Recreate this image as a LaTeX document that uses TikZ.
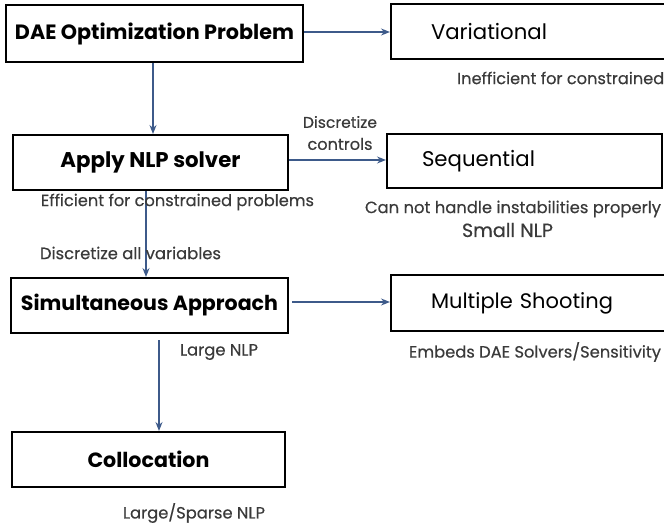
\documentclass[tikz,border=0pt]{standalone}
\usepackage{fontspec}
\setmainfont{Poppins}
\newfontfamily\medfont{Poppins}[FakeBold=0.4]
\usetikzlibrary{arrows.meta}
\definecolor{arrowblue}{HTML}{3D5A8A}
\definecolor{labelgray}{HTML}{3A3A3A}
\newcommand\fitw[2]{\resizebox{#1pt}{!}{#2}}
\begin{document}
\begin{tikzpicture}[x=1pt,y=-1pt,
  leftbox/.style={draw=black, line width=2pt, minimum height=55pt, inner sep=0pt, font=\bfseries},
  rightbox/.style={draw=black, line width=2pt, minimum height=55pt, inner ysep=0pt, inner xsep=40pt, align=left},
  lbl/.style={text=labelgray, inner sep=0pt, font=\medfont},
  arr/.style={draw=arrowblue, line width=1.3pt, -{Stealth[length=9pt,width=7pt,inset=3pt]}}
]
\clip (0,0) rectangle (664,527);
\useasboundingbox (0,0) rectangle (664,527);

% left column
\node[leftbox, minimum width=297pt, minimum height=57pt] (dae) at (154.5,33.5) {\fitw{279}{DAE Optimization Problem}};
\node[leftbox, minimum width=275pt] (apply) at (150.5,162.5) {\fitw{180}{Apply NLP solver}};
\node[leftbox, minimum width=277pt] (sim) at (149.5,305.5) {\fitw{257}{Simultaneous Approach}};
\node[leftbox, minimum width=273pt] (coll) at (148.5,459.5) {\fitw{122}{Collocation}};

% right column
\node[rightbox, text width=210pt, anchor=west] (var) at (390,31.5) {\fitw{116}{Variational}};
\node[rightbox, text width=205pt, inner xsep=35pt, minimum height=54pt, anchor=west] (seq) at (386,161) {\fitw{113}{Sequential}};
\node[rightbox, text width=210pt, minimum height=56pt, anchor=west] (ms) at (390,303) {\fitw{182}{Multiple Shooting}};

% arrows
\draw[arr] (dae.east |- 0,32) -- (var.west |- 0,32);
\draw[arr] (apply.east |- 0,160) -- (seq.west |- 0,160);
\draw[arr] ([xshift=3pt]sim.east |- 0,302) -- (ms.west |- 0,302);
\draw[arr] (dae.south -| 153,0) -- (apply.north -| 153,0);
\draw[arr] (apply.south -| 146,0) -- (sim.north -| 146,0);
\draw[arr] ([yshift=-6pt]sim.south -| 159,0) -- (coll.north -| 159,0);

% labels
\node[lbl, anchor=west] (l1) at (457,78) {\fitw{207}{Inefficient for constrained}};
\node[lbl, align=center, font=\medfont\fontsize{14}{22}\selectfont] (l2) at (340,133) {\fitw{74}{Discretize}\\\fitw{65}{controls}};
\node[lbl] (l3) at (177.5,202) {\fitw{273}{Efficient for constrained problems}};
\node[lbl] (l4) at (513,209) {\fitw{296}{Can not handle instabilities properly}};
\node[lbl] (l5) at (507.5,230) {\fitw{91}{Small NLP}};
\node[lbl] (l6) at (130.5,253) {\fitw{181}{Discretize all variables}};
\node[lbl] (l7) at (219,352) {\fitw{78}{Large NLP}};
\node[lbl] (l8) at (535,352) {\fitw{252}{Embeds DAE Solvers/Sensitivity}};
\node[lbl] (l9) at (194,513) {\fitw{142}{Large/Sparse NLP}};
\end{tikzpicture}
\end{document}
